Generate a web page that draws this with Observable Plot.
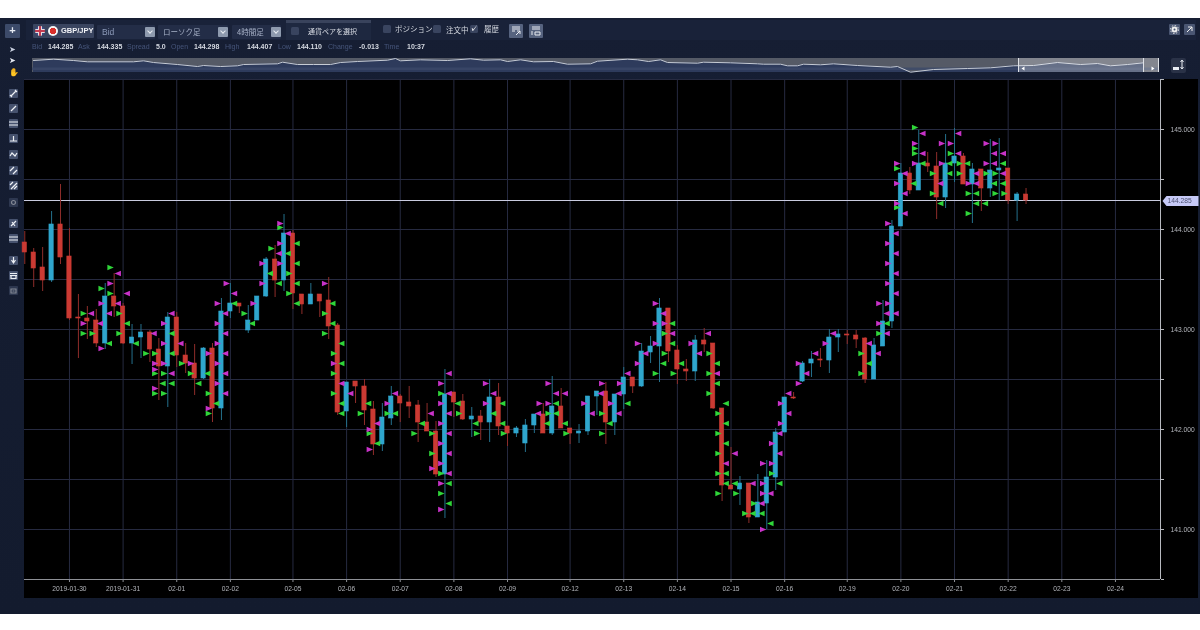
<!DOCTYPE html>
<html lang="ja"><head><meta charset="utf-8">
<script src="https://cdn.jsdelivr.net/npm/d3@7"></script>
<script src="https://cdn.jsdelivr.net/npm/@observablehq/plot@0.6"></script>
<style>
html,body{margin:0;padding:0;background:#fff;width:1200px;height:630px;overflow:hidden}
body{font-family:"Liberation Sans",Arial,sans-serif}
#app{position:absolute;left:0;top:18px;width:1200px;height:596px;background:linear-gradient(#161e33,#131b2e);filter:blur(0.3px)}
.a{position:absolute;white-space:nowrap}
#chart{position:absolute;left:24px;top:61px}
#nav{position:absolute;left:32px;top:40px}
.sel{position:absolute;height:14px;background:#232d47;color:#8b99b8;font-size:8px;line-height:14px;box-sizing:border-box;padding-left:5px;border-radius:1px}
.sel i{position:absolute;right:0;top:2px;width:10px;height:10px;background:#8e9aae;border-radius:1px}
.sel i:after{content:"";position:absolute;left:3px;top:2px;width:3px;height:3px;border:solid #e8ecf2;border-width:0 1.3px 1.3px 0;transform:rotate(45deg)}
.cb{position:absolute;width:8px;height:8px;background:#39445f;border-radius:1.5px}
.lbl{position:absolute;color:#46557a;font-size:7px;line-height:10px}
.val{position:absolute;color:#d4d8e0;font-size:7px;line-height:10px;font-weight:bold}
.jp{font-family:"Noto Sans CJK JP";color:#d6dae2;font-size:7.5px;line-height:12px;position:absolute;white-space:nowrap}
.ic{position:absolute;left:9px;width:9px;height:9px;background:#46526e;border-radius:1px}
.ic svg,.tb svg{display:block}
.tb{position:absolute;background:#56637f;border-radius:1px}
</style></head><body>
<div id="app">
  <div class="tb" style="left:5px;top:6px;width:15px;height:14px;background:#3c4a69;color:#e6eaf2;font-size:11px;line-height:13px;text-align:center;font-weight:bold">+</div>
  <div id="side"></div>
  <div class="a" style="left:26px;top:2px;width:1170px;height:20px;background:#192239"></div>
  <div class="a" style="left:33px;top:6px;width:61px;height:14px;background:#3a4560;border-radius:1px"></div>
  <div class="a" style="left:35px;top:8px;width:10px;height:10px;border-radius:5px;background:linear-gradient(#3a4a86 0 0) 0 0/3px 3px no-repeat,linear-gradient(#3a4a86 0 0) 100% 0/3px 3px no-repeat,linear-gradient(#3a4a86 0 0) 0 100%/3px 3px no-repeat,linear-gradient(#3a4a86 0 0) 100% 100%/3px 3px no-repeat,linear-gradient(#c23c52 0 0) 50% 50%/2px 10px no-repeat,linear-gradient(#c23c52 0 0) 50% 50%/10px 2px no-repeat,#e8dfe2"></div>
  <div class="a" style="left:48px;top:8px;width:10px;height:10px;border-radius:5px;background:radial-gradient(circle,#d9302c 0 3px,#f4f4f4 3.4px)"></div>
  <div class="a" style="left:61px;top:7px;color:#f0f2f6;font-weight:bold;font-size:7.5px;line-height:12px">GBP/JPY</div>
  <div class="sel" style="left:97px;top:7px;width:58px;font-size:8.5px">Bid<i></i></div>
  <div class="sel" style="left:158px;top:7px;width:70px;font-family:'Noto Sans CJK JP';font-size:7.5px;color:#a8b2c8">ローソク足<i></i></div>
  <div class="sel" style="left:232px;top:7px;width:49px;font-family:'Noto Sans CJK JP';font-size:7.5px;color:#a8b2c8">4時間足<i></i></div>
  <div class="a" style="left:286px;top:2px;width:85px;height:20px;background:#1e2840;border-top:3px solid #39435c;box-sizing:border-box"></div>
  <div class="cb" style="left:291px;top:9px"></div><div class="jp" style="left:308px;top:7px;font-size:7px">通貨ペアを選択</div>
  <div class="cb" style="left:383px;top:7px"></div><div class="jp" style="left:395px;top:5px">ポジション</div>
  <div class="cb" style="left:433px;top:7px"></div><div class="jp" style="left:446px;top:6px">注文中</div>
  <div class="cb" style="left:470px;top:7px;color:#fff;font-size:8px;line-height:8px;text-align:center">✓</div><div class="jp" style="left:484px;top:5px">履歴</div>
  <div class="tb" style="left:509px;top:6px;width:14px;height:14px"><svg width="14" height="14"><path d="M3 3h8M3 5h8M3 7h3M7 11l4-4M8 7h3v3" stroke="#e8ecf2" fill="none"/></svg></div>
  <div class="tb" style="left:529px;top:6px;width:14px;height:14px"><svg width="14" height="14"><path d="M3 3h8M3 5h8M3 7v4M6 8h5v3H6z" stroke="#e8ecf2" fill="none"/></svg></div>
  <div class="tb" style="left:1169px;top:6px;width:11px;height:11px;background:#4a5672"><svg width="11" height="11"><circle cx="5.5" cy="5.5" r="2" stroke="#eee" stroke-width="2" fill="none"/><circle cx="5.5" cy="5.5" r="4" stroke="#eee" stroke-dasharray="1.5 1.6" fill="none"/></svg></div>
  <div class="tb" style="left:1184px;top:6px;width:11px;height:11px;background:#4a5672"><svg width="11" height="11"><path d="M3 8l5-5M4 3h4v4" stroke="#eee" fill="none"/></svg></div>
  <div id="info"></div>
  <div id="nav"></div>
  <div class="a" style="left:1171px;top:40px;width:15px;height:15px;background:#2a3247;border-radius:2px"><svg width="15" height="15" style="display:block"><path d="M2 9h6v3H2z" fill="#e8ecf2"/><path d="M11 2v9M9.5 4L11 2l1.5 2M9.500 9l1.500 2 1.500-2" stroke="#e8ecf2" fill="none"/></svg></div>
  <div id="chart"></div>
</div>
<script>
// candle values (GBP/JPY, 4-hour bars), one entry per bar
const open = [143.87,143.77,143.62,143.49,144.05,143.73,143.12,143.11,143.09,142.86,143.33,143.23,142.86,142.92,142.97,142.80,142.63,143.12,142.74,142.66,142.51,142.81,142.21,143.18,143.26,142.99,143.09,143.33,143.70,143.49,143.96,143.35,143.25,143.35,143.29,143.04,142.18,142.48,142.43,142.20,141.85,142.11,142.33,142.27,142.24,142.07,141.98,141.55,142.37,142.28,142.10,142.13,142.07,142.32,142.03,141.96,141.86,142.04,142.15,141.96,142.23,142.01,141.96,141.98,142.33,142.38,142.07,142.35,142.52,142.43,142.77,142.83,143.21,142.79,142.60,142.58,142.89,142.86,142.21,141.44,141.40,141.46,141.12,141.26,141.52,141.97,142.32,142.48,142.66,142.70,142.69,142.92,142.95,142.94,142.91,142.50,142.83,143.08,144.03,144.56,144.39,144.66,144.63,144.32,144.66,144.73,144.45,144.60,144.41,144.59,144.61,144.29,144.35];
const close = [143.77,143.61,143.49,144.05,143.72,143.11,143.11,143.08,142.86,143.33,143.23,142.86,142.92,142.97,142.80,142.63,143.12,142.74,142.66,142.51,142.81,142.21,143.18,143.26,143.23,143.09,143.33,143.70,143.49,143.96,143.36,143.25,143.35,143.28,143.03,142.17,142.47,142.43,142.19,141.85,142.12,142.33,142.26,142.23,142.07,141.98,141.55,142.35,142.27,142.10,142.13,142.07,142.32,142.03,141.96,142.01,142.04,142.15,141.96,142.23,142.01,141.96,141.98,142.33,142.38,142.07,142.35,142.52,142.43,142.78,142.83,143.21,142.78,142.60,142.58,142.89,142.85,142.21,141.44,141.40,141.46,141.12,141.27,141.52,141.97,142.32,142.31,142.66,142.70,142.69,142.92,142.95,142.94,142.90,142.50,142.84,143.08,144.03,144.56,144.39,144.66,144.63,144.32,144.66,144.73,144.45,144.60,144.41,144.59,144.61,144.29,144.35,144.29];
const high = [143.98,143.81,143.82,144.18,144.45,144.01,143.35,143.23,143.20,143.46,143.56,143.26,143.05,143.05,142.99,142.91,143.17,143.17,142.86,142.85,142.82,142.86,143.31,143.46,143.26,143.24,143.33,143.72,143.84,144.15,143.99,143.35,143.46,143.35,143.52,143.06,142.47,142.48,142.50,142.28,142.26,142.43,142.35,142.43,142.29,142.26,142.08,142.60,142.37,142.35,142.22,142.19,142.50,142.46,142.03,142.03,142.10,142.15,142.26,142.53,142.41,142.01,142.05,142.33,142.38,142.47,142.35,142.62,142.52,142.86,142.93,143.31,143.21,142.84,142.70,142.94,143.01,142.86,142.21,141.82,141.53,141.46,141.55,141.69,142.01,142.32,142.37,142.68,142.78,142.81,143.00,143.00,142.99,142.99,142.92,142.91,143.29,144.09,144.66,144.62,144.99,144.77,144.77,144.95,145.01,144.76,144.66,144.60,144.90,144.91,144.61,144.37,144.41];
const low = [143.65,143.42,143.38,143.47,143.65,143.09,142.71,142.90,142.82,142.80,143.12,142.85,142.65,142.71,142.67,142.29,142.22,142.62,142.56,142.34,142.50,142.07,142.09,143.11,143.16,142.96,143.09,143.32,143.32,143.38,143.20,143.15,143.25,143.12,142.90,142.14,142.02,142.26,142.04,141.74,141.78,142.04,142.07,142.11,141.87,141.98,141.52,141.11,142.12,142.09,141.92,141.89,141.87,141.94,141.83,141.92,141.77,141.96,141.96,141.94,142.01,141.85,141.86,141.94,142.14,141.85,141.94,142.20,142.36,142.42,142.66,142.47,142.67,142.45,142.48,142.48,142.77,142.20,141.28,141.40,141.24,141.06,141.12,141.00,141.39,141.97,142.30,142.47,142.52,142.62,142.56,142.77,142.85,142.81,142.46,142.50,142.83,143.01,144.03,144.35,144.39,144.57,144.10,144.21,144.47,144.45,144.06,144.18,144.32,144.29,144.25,144.08,144.25];

// trade flags: [bar, price]; "Left" sits before the bar, "Right" after it
const magentaLeft = [[7,143.06],[9,143.26],[9,142.81],[10,143.46],[15,142.66],[15,142.60],[15,142.41],[16,143.06],[16,142.86],[16,142.66],[19,142.66],[21,142.76],[21,142.21],[22,142.46],[22,143.26],[22,143.06],[22,142.86],[22,142.66],[23,143.46],[26,143.26],[27,143.66],[27,143.46],[29,144.06],[29,143.86],[29,143.66],[34,143.46],[35,142.66],[39,142.00],[39,141.80],[41,142.26],[46,141.61],[47,142.46],[47,142.26],[47,142.06],[47,141.86],[47,141.66],[47,141.46],[47,141.20],[52,142.46],[52,142.26],[58,142.26],[59,142.46],[59,142.26],[63,142.26],[65,142.46],[66,142.26],[67,142.46],[69,142.86],[69,142.66],[71,143.26],[71,143.06],[71,142.86],[72,143.06],[75,142.86],[83,141.66],[83,141.46],[83,141.36],[83,141.00],[84,141.86],[84,141.66],[85,142.26],[85,142.06],[87,142.66],[87,142.46],[90,142.86],[96,143.26],[96,143.06],[97,144.06],[97,143.86],[97,143.66],[97,143.46],[97,143.26],[98,144.66],[98,144.46],[98,144.26],[100,144.86],[100,144.66],[103,144.86],[103,144.66],[104,144.86],[106,144.46],[108,144.86],[108,144.66],[109,144.86]];
const magentaRight = [[7,143.16],[8,143.06],[9,143.16],[10,143.56],[10,143.26],[11,143.36],[14,142.96],[16,143.16],[16,142.56],[17,142.86],[22,143.16],[22,142.96],[22,142.76],[22,142.56],[22,142.36],[23,143.36],[28,143.76],[29,143.96],[35,142.46],[36,142.36],[39,142.06],[41,142.36],[45,142.16],[47,142.56],[47,142.36],[47,142.16],[47,141.96],[47,141.76],[47,141.56],[52,142.36],[57,142.16],[59,142.36],[60,142.36],[63,142.16],[64,142.36],[66,142.36],[66,142.16],[67,142.56],[69,142.76],[71,143.16],[72,142.96],[75,142.76],[76,142.96],[77,142.56],[78,141.66],[79,141.76],[81,141.46],[82,141.26],[83,141.36],[84,141.96],[84,141.76],[85,142.36],[85,142.16],[87,142.56],[88,142.76],[90,142.96],[94,142.86],[95,142.76],[96,143.16],[96,142.96],[97,143.96],[97,143.76],[97,143.56],[97,143.36],[97,143.16],[98,144.56],[98,144.36],[98,144.16],[100,144.96],[100,144.76],[102,144.46],[104,144.96],[104,144.76],[106,144.56],[106,144.46],[108,144.76],[108,144.66],[109,144.76],[109,144.56]];
const greenLeft = [[7,143.16],[7,142.96],[8,142.96],[9,143.41],[10,143.62],[10,143.36],[11,143.16],[11,142.96],[14,142.76],[15,142.76],[15,142.56],[15,142.36],[16,142.56],[16,142.36],[18,142.66],[19,142.56],[21,142.36],[21,142.16],[25,143.16],[28,143.81],[29,144.02],[30,143.56],[30,143.36],[34,143.16],[34,142.96],[35,142.76],[35,142.56],[35,142.36],[38,142.16],[39,141.96],[41,142.16],[44,141.96],[46,141.96],[46,141.76],[47,142.36],[47,141.56],[47,141.36],[49,142.16],[51,141.96],[54,141.96],[59,142.16],[61,141.96],[65,142.16],[65,141.96],[71,142.56],[72,142.96],[72,142.76],[73,142.56],[77,142.76],[77,142.56],[77,142.36],[78,142.16],[78,141.96],[78,141.76],[78,141.56],[78,141.36],[80,141.36],[81,141.16],[82,141.26],[84,141.56],[94,142.76],[94,142.56],[96,142.96],[98,144.61],[98,144.22],[100,145.02],[100,144.81],[100,144.76],[102,144.56],[102,144.36],[104,144.76],[105,144.66],[105,144.56],[106,144.36],[106,144.16],[108,144.56],[109,144.56],[109,144.36],[110,144.36]];
const greenRight = [[9,142.86],[11,143.06],[12,142.86],[15,142.46],[16,142.96],[16,142.76],[16,142.46],[19,142.46],[20,142.56],[21,142.26],[23,143.26],[25,143.06],[27,143.56],[28,143.46],[29,143.76],[30,143.86],[30,143.66],[30,143.46],[30,143.26],[34,143.26],[34,143.06],[35,142.86],[35,142.66],[35,142.26],[35,142.16],[38,142.26],[39,141.86],[41,142.16],[44,142.06],[47,141.46],[47,141.26],[48,142.26],[50,142.06],[52,142.16],[53,142.26],[53,142.06],[58,142.06],[59,142.26],[59,142.16],[60,142.06],[65,142.06],[67,142.26],[71,142.66],[72,143.06],[72,142.86],[73,142.66],[77,142.66],[77,142.46],[78,142.26],[78,142.06],[78,141.86],[78,141.56],[78,141.46],[79,141.46],[81,141.16],[82,141.16],[83,141.06],[84,141.46],[94,142.66],[96,143.06],[99,144.46],[100,144.66],[102,144.26],[103,144.66],[103,144.56],[105,144.66],[106,144.36],[106,144.26],[107,144.26],[108,144.46],[109,144.66],[109,144.46]];

// time axis
const dayBars = [5,11,17,23,30,36,42,48,54,61,67,73,79,85,92,98,104,110,116,122];
const dayLabels = ["2019-01-30","2019-01-31","02-01","02-02","02-05","02-06","02-07","02-08","02-09","02-12","02-13","02-14","02-15","02-16","02-19","02-20","02-21","02-22","02-23","02-24"];
const priceTicks = [140.5,141,141.5,142,142.5,143,143.5,144,144.5,145,145.5];
const lastPrice = 144.285;

// overview strip: position along the strip and level of the line in it
const overviewPos = [1,21,41,55,101,111,121,145,165,171,188,205,211,245,250,265,281,298,308,325,355,363,368,388,415,438,451,468,475,488,501,521,535,558,565,595,605,616,628,635,665,671,698,725,731,748,755,765,771,788,801,825,858,865,878,901,935,958,981,1001,1025,1048,1065,1078,1095,1111];
const overviewLevel = [12,13.3,12,10.7,10.7,11.7,10,8,6,7,6,6.7,8,8.7,10.3,8,8,8,10,11,12.3,14,11.7,12.7,12,13.7,12.3,12.7,11,12.7,10.7,11,8.3,8.7,11.3,13.3,12.7,11,12.7,10,9.3,10.3,9.7,8.7,8.3,8.3,6.7,6.7,8.3,7.7,8.7,7,5.3,6,0.3,3,4,4.7,6.7,7,10,8,9,6.7,8,9.7];
const overviewWindow = [986,1127];
const overviewMarks = [986,1111,1126];

const infoLabels = [["Bid",32],["Ask",78],["Spread",127],["Open",171],["High",225],["Low",278],["Change",328],["Time",384]];
const infoValues = [["144.285",48],["144.335",97],["5.0",156],["144.298",194],["144.407",247],["144.110",297],["-0.013",359],["10:37",407]];

const candles = open.map((o,i)=>({i,open:o,close:close[i],high:high[i],low:low[i]}));
const toRows = a => a.map(([i,p])=>({i,p}));
const blue="#2fa6cd", red="#cb3a33", darkBlue="#24708c", darkRed="#8f2d2a", magenta="#c832c8", green="#2fd639";
const tipRight={draw(c){c.moveTo(-3.2,-2.8);c.lineTo(3.2,0);c.lineTo(-3.2,2.8);c.closePath();}};
const tipLeft={draw(c){c.moveTo(3.2,-2.8);c.lineTo(-3.2,0);c.lineTo(3.2,2.8);c.closePath();}};
const tag={draw(c){c.moveTo(0,0);c.lineTo(4,-5);c.lineTo(36,-5);c.lineTo(36,5);c.lineTo(4,5);c.closePath();}};
const xMax=127.04;
const lab=i=>{const k=dayBars.indexOf(i);return k<0?"":dayLabels[k]};

const chart=Plot.plot({
  width:1174,height:519,marginLeft:0,marginRight:38,marginTop:0,marginBottom:19,
  style:{background:"#000",color:"#b4b6bc",fontFamily:"Liberation Sans, Arial, sans-serif",fontSize:"6.7px",overflow:"visible"},
  x:{domain:[-0.03,xMax],type:"linear"},
  y:{domain:[140.5,145.5]},
  marks:[
    Plot.ruleY(priceTicks,{stroke:"#262a40"}),
    Plot.ruleX(dayBars,{stroke:"#262a40"}),
    Plot.ruleY([lastPrice],{stroke:"#c9cbdf",dy:-0.5}),
    Plot.ruleX(candles,{x:"i",y1:"low",y2:"high",stroke:d=>d.close>=d.open?darkBlue:darkRed}),
    Plot.rect(candles,{x1:d=>d.i-0.24,x2:d=>d.i+0.24,y1:"open",y2:"close",fill:d=>d.close>=d.open?blue:red,stroke:d=>d.close>=d.open?blue:red,strokeWidth:0.6}),
    Plot.dot(toRows(greenLeft),{x:"i",y:"p",fill:green,symbol:tipRight,dx:-3.6}),
    Plot.dot(toRows(greenRight),{x:"i",y:"p",fill:green,symbol:tipLeft,dx:3.6}),
    Plot.dot(toRows(magentaLeft),{x:"i",y:"p",fill:magenta,symbol:tipRight,dx:-3.6}),
    Plot.dot(toRows(magentaRight),{x:"i",y:"p",fill:magenta,symbol:tipLeft,dx:3.6}),
    Plot.ruleX([xMax],{stroke:"#b8bac0"}),
    Plot.ruleY([140.5],{stroke:"#8e9096"}),
    Plot.axisY({anchor:"right",ticks:priceTicks,tickSize:3,tickPadding:7,label:null,stroke:"#b8bac0",tickFormat:d=>Number.isInteger(d)?d.toFixed(3):""}),
    Plot.axisX({anchor:"bottom",ticks:dayBars,tickSize:3,tickPadding:4,label:null,stroke:"#8e9096",tickFormat:lab}),
    Plot.dot([lastPrice],{x:()=>xMax,y:d=>d,fill:"#c6c9f6",symbol:tag,dx:2}),
    Plot.text([lastPrice],{x:()=>xMax,y:d=>d,text:d=>d.toFixed(3),dx:7,textAnchor:"start",fill:"#4c5070"})
  ]
});
document.getElementById("chart").appendChild(chart);

const overviewRows=overviewPos.map((x,k)=>({x,v:overviewLevel[k]}));
const nav=Plot.plot({
  width:1126,height:14,margin:0,axis:null,
  style:{background:"transparent",overflow:"visible"},
  x:{domain:[0,1126],axis:null},y:{domain:[0,14],axis:null},
  marks:[
    Plot.rect([1],{x1:()=>0,x2:()=>1126,y1:()=>0,y2:()=>14,fill:"#555a66"}),
    Plot.areaY(overviewRows,{x:"x",y:"v",y1:0,fill:"#2e3b5c"}),
    Plot.rect([1],{x1:()=>0,x2:()=>1126,y1:()=>2,y2:()=>4.5,fill:"#3b4869",fillOpacity:.8}),
    Plot.lineY(overviewRows,{x:"x",y:"v",stroke:"#c6cbd4",strokeWidth:1}),
    Plot.rect([1],{x1:()=>overviewWindow[0],x2:()=>overviewWindow[1],y1:()=>0,y2:()=>14,fill:"#fff",fillOpacity:.27}),
    Plot.ruleX(overviewMarks,{stroke:"#dfe2e8"}),
    Plot.dot([overviewWindow[0]+4],{x:d=>d,y:()=>4,symbol:{draw(c){c.moveTo(2,-2);c.lineTo(-1,0);c.lineTo(2,2);c.closePath();}},fill:"#fff"}),
    Plot.dot([overviewWindow[1]-6],{x:d=>d,y:()=>4,symbol:{draw(c){c.moveTo(-2,-2);c.lineTo(1,0);c.lineTo(-2,2);c.closePath();}},fill:"#fff"})
  ]
});
document.getElementById("nav").appendChild(nav);

document.getElementById("info").innerHTML=
  infoLabels.map(([t,x])=>`<div class="lbl" style="left:${x}px;top:24px">${t}</div>`).join("")+
  infoValues.map(([t,x])=>`<div class="val" style="left:${x}px;top:24px">${t}</div>`).join("");

const sideIcons=[[76,"M2 7L7 2M1 6l2 2M6 1l2 2"],[91,"M2 7L7 2"],[106,"M0 3h9M0 6h9"],[121,"M4.500 2v4.500M1 7h7"],[137,"M1 6L3 3 6 6 8 3"],[153,"M1 5L5 1M4 8L8 4"],[168,"M1 4L4 1M2 8L8 2M5 8L8 5"],[185,"M2.500 4.500a2 2 0 1 0 4 0a2 2 0 1 0-4 0"],[206,"M2 7L7 2M3 3l3 4"],[221,"M0 3h9M0 6h9"],[243,"M4.500 1v5M2.500 4l2 3 2-3"],[258,"M1 2.500h7M1 4.500h7M2 4.500v3h5v-3"],[273,"M2 3h5v4H2zM3.500 5h2"]];
const dim=new Set([185,273]);
document.getElementById("side").innerHTML=
  `<div class="a" style="left:9px;top:27px;color:#c6cede;font-size:8px">➤</div><div class="a" style="left:9px;top:38px;color:#e6eaf2;font-size:8px">➤</div><div class="a" style="left:9px;top:50px;color:#c6cede;font-size:8px">✋</div>`+
  sideIcons.map(([y,d])=>`<div class="ic" style="top:${y-5}px;${dim.has(y)?"opacity:.5":""}"><svg width="9" height="9"><path d="${d}" stroke="#eef1f6" fill="none" stroke-width="1.200"/></svg></div>`).join("");
</script>
</body></html>
